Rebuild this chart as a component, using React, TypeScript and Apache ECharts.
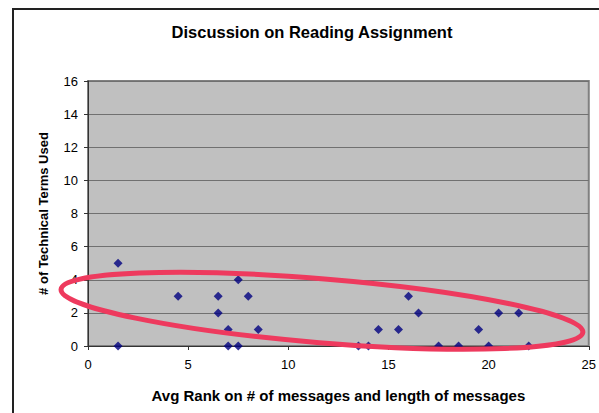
import React, { useEffect, useRef } from "react";
import * as echarts from "echarts";

const chartTitle = "Discussion on Reading Assignment";
const xAxisName = "Avg Rank on # of messages and length of messages";
const yAxisName = "# of Technical Terms Used";

const avgRank = [1.5, 1.5, 4.5, 6.5, 6.5, 7, 7, 7.5, 7.5, 8, 8.5, 13.5, 14, 14.5, 15.5, 16, 16.5, 17.5, 18.5, 19.5, 20, 20.5, 21.5, 22];
const termsUsed = [5, 0, 3, 3, 2, 1, 0, 4, 0, 3, 1, 0, 0, 1, 1, 3, 2, 0, 0, 1, 0, 2, 2, 0];

// annotation ellipse: ends of its long axis (data units) and half-width (y units)
const ellipseEndA = [-1.34, 3.42];
const ellipseEndB = [24.7, 0.83];
const ellipseHalfWidth = 1.93;

const FONT = "'Liberation Sans', Arial, sans-serif";

export default function App() {
  const ref = useRef<HTMLDivElement>(null);
  useEffect(() => {
    document.body.style.margin = "0";
    const chart = echarts.init(ref.current!, null, { renderer: "svg" });
    const data = avgRank.map((x, i) => [x, termsUsed[i]]);
    chart.setOption({
      animation: false,
      backgroundColor: "#ffffff",
      title: {
        text: chartTitle,
        left: 307,
        textAlign: "center",
        top: 18,
        textStyle: { fontFamily: FONT, fontSize: 16.5, fontWeight: "bold", color: "#000" },
      },
      grid: {
        left: 88,
        top: 81,
        right: 9,
        bottom: 67,
        show: true,
        backgroundColor: "#C0C0C0",
        borderColor: "#808080",
        borderWidth: 2,
      },
      xAxis: {
        type: "value",
        min: 0,
        max: 25,
        interval: 5,
        name: xAxisName,
        nameLocation: "middle",
        nameGap: 42,
        nameTextStyle: { fontFamily: FONT, fontSize: 15, fontWeight: "bold", color: "#000" },
        axisLine: { show: true, onZero: false, lineStyle: { color: "#333", width: 1 } },
        axisTick: { show: true, inside: false, length: 4, lineStyle: { color: "#333" } },
        axisLabel: { fontFamily: FONT, fontSize: 13, color: "#000", margin: 12 },
        splitLine: { show: false },
      },
      yAxis: {
        type: "value",
        min: 0,
        max: 16,
        interval: 2,
        name: yAxisName,
        nameLocation: "middle",
        nameGap: 38,
        nameTextStyle: { fontFamily: FONT, fontSize: 13, fontWeight: "bold", color: "#000" },
        axisLine: { show: true, lineStyle: { color: "#333", width: 1 } },
        axisTick: { show: true, inside: false, length: 4, lineStyle: { color: "#333" } },
        axisLabel: { fontFamily: FONT, fontSize: 13, color: "#000", margin: 10 },
        splitLine: { show: true, lineStyle: { color: "#707070", width: 1 } },
      },
      series: [
        {
          type: "scatter",
          data,
          symbol: "diamond",
          symbolSize: 9,
          itemStyle: { color: "#000080" },
          z: 3,
        },
      ],
    });

    const pA = chart.convertToPixel({ gridIndex: 0 }, ellipseEndA) as number[];
    const pB = chart.convertToPixel({ gridIndex: 0 }, ellipseEndB) as number[];
    const p0 = chart.convertToPixel({ gridIndex: 0 }, [0, 0]) as number[];
    const p1 = chart.convertToPixel({ gridIndex: 0 }, [0, ellipseHalfWidth]) as number[];
    const cx = (pA[0] + pB[0]) / 2;
    const cy = (pA[1] + pB[1]) / 2;
    const dx = pB[0] - pA[0];
    const dy = pB[1] - pA[1];
    const rx = Math.sqrt(dx * dx + dy * dy) / 2;
    const ry = Math.abs(p0[1] - p1[1]);
    const angle = Math.atan2(dy, dx);

    chart.setOption({
      graphic: [
        {
          type: "polyline",
          silent: true,
          z: 50,
          shape: { points: [[13, 413], [13, 9], [599, 9]] },
          style: { stroke: "#222", lineWidth: 2, fill: "none" },
        },
        {
          type: "ellipse",
          silent: true,
          z: 100,
          x: cx,
          y: cy,
          rotation: -angle,
          shape: { cx: 0, cy: 0, rx, ry },
          style: { fill: "none", stroke: "#EE3A5E", lineWidth: 5 },
        },
      ],
    });

    return () => chart.dispose();
  }, []);
  return <div ref={ref} style={{ width: 599, height: 413 }} />;
}
